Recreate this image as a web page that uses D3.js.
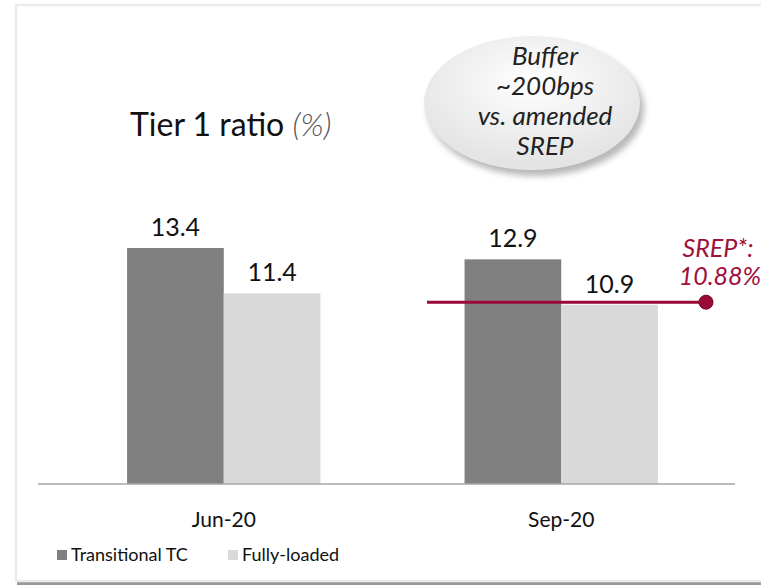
<!DOCTYPE html>
<html>
<head>
<meta charset="utf-8">
<script src="https://cdn.jsdelivr.net/npm/d3@7"></script>
<style>
  body { margin: 0; background: #fff; }
  text { font-family: Lato, "Open Sans", sans-serif; }
</style>
</head>
<body>
<div class="chart"></div>
<script>
var W = 761, H = 587

var categories = ['Jun-20', 'Sep-20']
var seriesNames = ['Transitional TC', 'Fully-loaded']
var transitional = [13.4, 12.9]
var fullyLoaded = [11.4, 10.9]
var srep = 10.88
var bubbleLines = ['Buffer', '~200bps', 'vs. amended', 'SREP']
var colors = ['#808080', '#d9d9d9']

var svg = d3.select('.chart')
  .append('svg')
  .attr('width', W)
  .attr('height', H)

var defs = svg.append('defs')
var grad = defs.append('radialGradient').attr('id', 'bub')
  .attr('cx', '50%').attr('cy', '35%').attr('r', '60%')
grad.append('stop').attr('offset', '0%').attr('stop-color', '#ffffff')
grad.append('stop').attr('offset', '100%').attr('stop-color', '#e4e4e4')
var blur = defs.append('filter').attr('id', 'shadow')
  .attr('x', '-20%').attr('y', '-20%').attr('width', '150%').attr('height', '150%')
blur.append('feGaussianBlur').attr('stdDeviation', 3)

// frame
svg.append('rect')
  .attr('x', 17).attr('y', 581).attr('width', W).attr('height', 4)
  .attr('fill', '#9a9a9a')
svg.append('rect')
  .attr('x', 16).attr('y', 5).attr('width', W).attr('height', 576)
  .attr('fill', '#fff').attr('stroke', '#ebebeb').attr('stroke-width', 2.5)

var y = d3.scaleLinear().domain([3, 16]).range([484, 189])
var x0 = d3.scaleBand().domain(categories).range([55, 730]).paddingInner(0.427).paddingOuter(0.2136)
var x1 = d3.scaleBand().domain(seriesNames).range([0, x0.bandwidth()])

var rows = categories.map(function(c, i) {
  return {cat: c, vals: [transitional[i], fullyLoaded[i]]}
})

var g = svg.selectAll('.grp')
  .data(rows)
  .enter().append('g')
  .attr('transform', function(d) { return 'translate(' + x0(d.cat) + ',0)' })

g.selectAll('rect')
  .data(function(d) { return d.vals })
  .enter().append('rect')
  .attr('x', function(d, i) { return x1(seriesNames[i]) })
  .attr('width', x1.bandwidth())
  .attr('y', function(d) { return y(d) })
  .attr('height', function(d) { return y.range()[0] - y(d) })
  .attr('fill', function(d, i) { return colors[i] })

g.selectAll('.val')
  .data(function(d) { return d.vals })
  .enter().append('text')
  .attr('class', 'val')
  .attr('x', function(d, i) { return x1(seriesNames[i]) + x1.bandwidth() / 2 })
  .attr('y', function(d) { return y(d) - 12 })
  .attr('text-anchor', 'middle')
  .attr('font-size', 25)
  .attr('fill', '#111')
  .text(function(d) { return d.toFixed(1) })

// baseline + category labels
var xAxis = svg.append('g')
  .attr('transform', 'translate(0,' + y.range()[0] + ')')
  .call(d3.axisBottom(x0).tickSize(0).tickPadding(28))
xAxis.select('.domain').attr('stroke', '#a6a6a6').attr('stroke-width', 1.5)
  .attr('d', 'M38,0H735')
xAxis.selectAll('text').attr('font-size', 21).attr('fill', '#111')
  .style('font-family', 'Lato, sans-serif')

// SREP line
svg.append('line')
  .attr('x1', 427).attr('x2', 706)
  .attr('y1', y(srep) - 3).attr('y2', y(srep) - 3)
  .attr('stroke', '#9b0a36').attr('stroke-width', 3)
svg.append('circle')
  .attr('cx', 706).attr('cy', y(srep) - 3).attr('r', 7)
  .attr('fill', '#9b0a36').attr('stroke', '#6d0625').attr('stroke-width', 1)
svg.append('text')
  .attr('x', 718).attr('y', 257)
  .attr('text-anchor', 'middle').attr('font-size', 25).attr('font-style', 'italic')
  .attr('fill', '#a0103c').text('SREP*:')
svg.append('text')
  .attr('x', 720).attr('y', 285)
  .attr('text-anchor', 'middle').attr('font-size', 25).attr('font-style', 'italic')
  .attr('fill', '#a0103c').text(srep.toFixed(2) + '%')

// title
var t = svg.append('text').attr('x', 130).attr('y', 136).attr('font-size', 32).attr('fill', '#111')
t.append('tspan').text('Tier 1 ratio ')
t.append('tspan').attr('font-style', 'italic').attr('font-weight', 300).attr('fill', '#555').text('(%)')

// bubble
svg.append('ellipse')
  .attr('cx', 536).attr('cy', 109).attr('rx', 108).attr('ry', 67)
  .attr('fill', '#888').attr('opacity', 0.6).attr('filter', 'url(#shadow)')
svg.append('ellipse')
  .attr('cx', 532).attr('cy', 103).attr('rx', 108).attr('ry', 67)
  .attr('fill', 'url(#bub)')
svg.selectAll('.bub')
  .data(bubbleLines)
  .enter().append('text')
  .attr('class', 'bub')
  .attr('x', 545)
  .attr('y', function(d, i) { return 65 + i * 30 })
  .attr('text-anchor', 'middle')
  .attr('font-size', 26).attr('font-style', 'italic').attr('fill', '#222')
  .text(function(d) { return d })

// legend
var lg = svg.selectAll('.lg')
  .data(seriesNames)
  .enter().append('g')
  .attr('transform', function(d, i) { return 'translate(' + [57, 228][i] + ',550)' })
lg.append('rect').attr('width', 10).attr('height', 10)
  .attr('fill', function(d, i) { return colors[i] })
lg.append('text').attr('x', 14).attr('y', 11).attr('font-size', 18).attr('fill', '#111')
  .text(function(d) { return d })
</script>
</body>
</html>
